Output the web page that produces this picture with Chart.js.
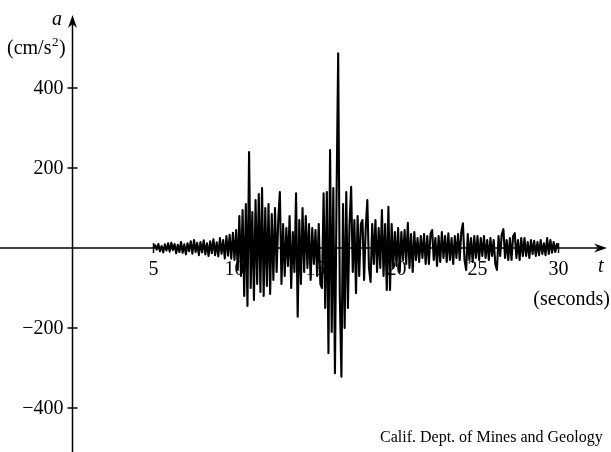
<!DOCTYPE html>
<html>
<head>
<meta charset="utf-8">
<script src="https://cdn.jsdelivr.net/npm/chart.js@4.4.0/dist/chart.umd.min.js"></script>
<style>
html,body{margin:0;padding:0;background:#fff;}
#wrap{width:611px;height:452px;position:relative;}
</style>
</head>
<body>
<div id="wrap"><canvas id="c" width="611" height="452"></canvas></div>
<script>
// ---- data (acceleration in cm/s^2, sampled every 0.1 s from t = 5.0 s) ----
const xTickValues = [5, 10, 15, 20, 25, 30];
const xTickLabels = ["5", "10", "15", "20", "25", "30"];
const yTickValues = [400, 200, -200, -400];
const yTickLabels = ["400", "200", "\u2212200", "\u2212400"];
const startTime = 5.0;
const sampleStep = 0.1;

const accel5to10 = [
  0, 7, -4, 10, -8, 5, -11, 9, -6, 12,
  -9, 13, -5, 10, -13, 8, -10, 15, -12, 9,
  -16, 12, -8, 17, -14, 20, -10, 13, -18, 15,
  -11, 19, -16, 12, -20, 17, -13, 22, -18, 14,
  -21, 25, -14, 20, -26, 30, -19, 33, -27, 38
];
const accel10to15 = [
  -30, 45, -55, 80, -70, 95, -120, 110, -145, 240,
  -100, 90, -130, 120, -90, 135, -110, 150, -120, 100,
  -95, 110, -115, 85, -80, 100, -60, 70, 140, -90,
  60, -70, 50, -45, 80, -100, 40, -60, 137, -172,
  70, -90, 100, -60, 80, -50, 60, -80, 50, -40
];
const accel15to20 = [
  45, -70, 60, -90, -100, 137, -150, 140, -263, 245,
  -210, 150, -313, 130, 487, -120, -322, 110, -200, 140,
  -150, 60, 153, -60, 70, -113, 80, -70, 60, 70,
  -80, 50, 120, -50, -85, 60, -40, 70, -60, 50,
  -50, 95, -70, 60, -105, 103, -105, 60, -50, 40
];
const accel20to25 = [
  -45, 50, -60, 40, -30, 45, -40, 63, -50, 35,
  -60, 40, -30, 25, -35, 30, -25, 35, -40, 30,
  -40, 35, 45, -30, 25, -45, 30, -35, 40, -25,
  30, -35, 37, -30, 25, -40, 30, -25, 35, -30,
  40, 62, -30, -55, 35, -30, 25, -35, 30, -25
];
const accel25to30 = [
  30, -30, 25, -20, 30, -25, 20, -30, 25, -20,
  20, -40, -55, 30, -20, 35, 47, -25, 20, -30,
  25, -30, 30, 37, -25, 20, -30, 25, -20, 25,
  -20, 15, -25, 20, -15, 18, -20, 15, -18, 20,
  -15, 12, -18, 25, -15, 20, -12, 15, -10, 10,
  0
];

const allAccel = [].concat(accel5to10, accel10to15, accel15to20, accel20to25, accel25to30);
const points = allAccel.map((v, i) => ({ x: Math.round((startTime + i * sampleStep) * 10) / 10, y: v }));

// ---- drawing ----
const FONT = '"Liberation Serif", "DejaVu Serif", serif';

function arrowHead(ctx, tipX, tipY, dir) {
  ctx.save();
  ctx.translate(tipX, tipY);
  if (dir === 'up') ctx.rotate(-Math.PI / 2);
  ctx.beginPath();
  ctx.moveTo(0, 0);
  ctx.lineTo(-13, -4.5);
  ctx.lineTo(-9, 0);
  ctx.lineTo(-13, 4.5);
  ctx.closePath();
  ctx.fillStyle = '#000';
  ctx.fill();
  ctx.restore();
}

const axesPlugin = {
  id: 'axesPlugin',
  afterDraw(chart) {
    const ctx = chart.ctx;
    const xs = chart.scales.x, ys = chart.scales.y;
    const x0 = xs.getPixelForValue(0);
    const y0 = ys.getPixelForValue(0);
    const area = chart.chartArea;
    ctx.save();
    ctx.strokeStyle = '#000';
    ctx.lineWidth = 1.5;
    // x axis
    ctx.beginPath();
    ctx.moveTo(area.left, y0);
    ctx.lineTo(area.right - 8, y0);
    ctx.stroke();
    arrowHead(ctx, area.right - 4, y0, 'right');
    // y axis
    ctx.beginPath();
    ctx.moveTo(x0, area.bottom);
    ctx.lineTo(x0, 24);
    ctx.stroke();
    arrowHead(ctx, x0, 15, 'up');

    ctx.fillStyle = '#000';
    ctx.font = '20px ' + FONT;
    // y ticks
    ctx.textAlign = 'right';
    ctx.textBaseline = 'middle';
    yTickValues.forEach((v, i) => {
      const py = ys.getPixelForValue(v);
      ctx.beginPath();
      ctx.moveTo(x0 - 5, py);
      ctx.lineTo(x0 + 5, py);
      ctx.stroke();
      ctx.fillText(yTickLabels[i], x0 - 9, py + 1);
    });
    // x ticks
    ctx.textAlign = 'center';
    ctx.textBaseline = 'top';
    xTickValues.forEach((v, i) => {
      const px = xs.getPixelForValue(v);
      ctx.beginPath();
      ctx.moveTo(px, y0 - 5);
      ctx.lineTo(px, y0 + 5);
      ctx.stroke();
      ctx.fillText(xTickLabels[i], px, y0 + 12);
    });

    // axis titles
    ctx.textBaseline = 'alphabetic';
    ctx.font = 'italic 20px ' + FONT;
    ctx.textAlign = 'left';
    ctx.fillText('a', 52, 25);
    ctx.fillText('t', 598, 272);

    ctx.font = '20px ' + FONT;
    ctx.textAlign = 'left';
    const part1 = '(cm/s';
    ctx.fillText(part1, 7, 54);
    const w1 = ctx.measureText(part1).width;
    ctx.font = '13px ' + FONT;
    ctx.fillText('2', 7 + w1 + 0.5, 46);
    const w2 = ctx.measureText('2').width;
    ctx.font = '20px ' + FONT;
    ctx.fillText(')', 7 + w1 + w2 + 1, 54);

    ctx.textAlign = 'right';
    ctx.fillText('(seconds)', 610, 305);

    ctx.font = '16px ' + FONT;
    ctx.textAlign = 'left';
    ctx.fillText('Calif. Dept. of Mines and Geology', 380, 442);
    ctx.restore();
  }
};

const originX = 72.5, originY = 248, pxPerSec = 16.2, pxPerUnit = 0.4;
const W = 611, H = 452;

new Chart(document.getElementById('c'), {
  type: 'line',
  data: {
    datasets: [{
      data: points,
      borderColor: '#000',
      borderWidth: 2.1,
      borderJoinStyle: 'round',
      pointRadius: 0,
      tension: 0,
      fill: false
    }]
  },
  options: {
    responsive: false,
    animation: false,
    devicePixelRatio: 1,
    layout: { padding: 0 },
    plugins: { legend: { display: false }, tooltip: { enabled: false } },
    scales: {
      x: { type: 'linear', display: false, min: -originX / pxPerSec, max: (W - originX) / pxPerSec },
      y: { type: 'linear', display: false, min: -(H - originY) / pxPerUnit, max: originY / pxPerUnit }
    }
  },
  plugins: [axesPlugin]
});
</script>
</body>
</html>
